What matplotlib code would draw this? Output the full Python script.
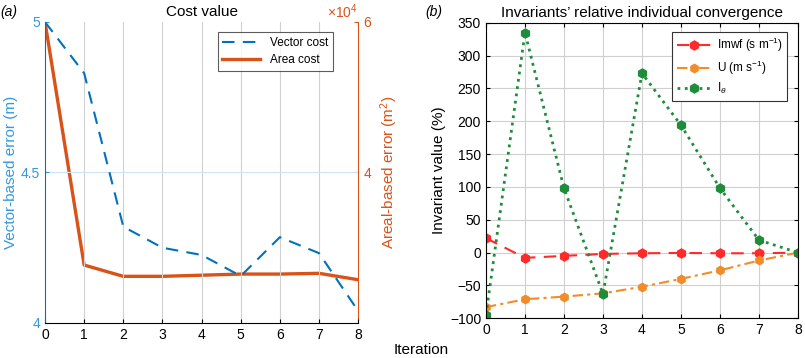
import matplotlib.pyplot as plt
from matplotlib.ticker import ScalarFormatter

plt.rcParams['font.family'] = ['Liberation Sans', 'DejaVu Sans']
plt.rcParams['mathtext.fontset'] = 'custom'
plt.rcParams['mathtext.rm'] = 'Liberation Sans'
plt.rcParams['mathtext.it'] = 'Liberation Sans:italic'

iterations = [0, 1, 2, 3, 4, 5, 6, 7, 8]

# panel (a)
vector_cost = [5.0, 4.83, 4.32, 4.25, 4.226, 4.156, 4.285, 4.232, 4.04]
area_cost = [60000, 27700, 26200, 26200, 26350, 26500, 26500, 26600, 25750]

# panel (b)
imwf = [22, -8, -5, -2, -1, -0.5, -1, -1, 0]
u_inv = [-83, -71, -67, -62, -52, -40, -27, -12, 0]
i_theta = [-95, 335, 98, -63, 273, 194, 98, 19, 0]

BLUE = '#0072BD'
ORANGE = '#D95319'

fig = plt.figure(figsize=(8.05, 3.58), dpi=100)

# ---- (a) cost value ----
ax1 = fig.add_axes([0.0559, 0.0978, 0.389, 0.8408])
ax2 = ax1.twinx()

l1, = ax1.plot(iterations, vector_cost, '--', color=BLUE, lw=1.5, dashes=(6, 4))
l2, = ax2.plot(iterations, area_cost, '-', color=ORANGE, lw=2.4)

ax1.set_xlim(0, 8)
ax1.set_ylim(4, 5)
ax1.set_yticks([4, 4.5, 5])
ax1.set_yticklabels(['4', '4.5', '5'])
ax1.set_xticks(iterations)
ax2.set_ylim(20000, 60000)
ax2.set_yticks([40000, 60000])
fmt = ScalarFormatter(useMathText=True)
fmt.set_powerlimits((0, 0))
ax2.yaxis.set_major_formatter(fmt)
ax2.yaxis.get_offset_text().set_color(ORANGE)
ax2.yaxis.get_offset_text().set_fontsize(10)

for x in iterations[1:-1]:
    ax1.axvline(x, color='#d0d0d0', lw=0.8, zorder=0)
ax1.axhline(4.5, color='#cfe3f2', lw=0.8, zorder=0)

ax1.spines['top'].set_visible(False)
ax2.spines['top'].set_visible(False)
ax1.spines['left'].set_color(BLUE)
ax2.spines['left'].set_visible(False)
ax1.spines['right'].set_visible(False)
ax2.spines['right'].set_color(ORANGE)
ax2.spines['bottom'].set_visible(False)
ax1.tick_params(axis='y', colors='#3399DD', labelsize=10, direction='in', length=3)
ax1.tick_params(axis='x', labelsize=10, direction='in', length=3)
ax2.tick_params(axis='y', colors=ORANGE, labelsize=10, direction='in', length=3)

ax1.set_ylabel('Vector-based error (m)', color='#3399DD', fontsize=11, labelpad=2)
ax2.set_ylabel('Areal-based error (m$^2$)', color=ORANGE, fontsize=11, labelpad=4)
ax1.set_title('Cost value', fontsize=11, pad=4)

leg = ax1.legend([l1, l2], ['Vector cost', 'Area cost'], loc='upper right',
                 bbox_to_anchor=(0.937, 0.985), fontsize=8.5, frameon=True,
                 fancybox=False, edgecolor='#333333', handlelength=3.2,
                 labelspacing=0.45)
leg.get_frame().set_linewidth(0.8)
ax1.set_zorder(ax2.get_zorder() + 1)
ax1.patch.set_visible(False)

fig.text(0.0, 0.955, '(a)', fontsize=10, style='italic')

# ---- (b) invariants ----
ax3 = fig.add_axes([0.6037, 0.1109, 0.3876, 0.8257])
ax3.plot(iterations, imwf, color='#FF2A2A', ls=(0, (6, 4)), lw=1.5,
         marker='h', ms=6.5, label='Imwf (s m$^{-1}$)')
ax3.plot(iterations, u_inv, color='#F28C28', ls=(0, (5, 2, 1.5, 2)), lw=1.5,
         marker='h', ms=6, label='U (m s$^{-1}$)')
ax3.plot(iterations, i_theta, color='#1E8C3A', ls=':', lw=2,
         marker='h', ms=6.5, label='I$_\\theta$')
ax3.set_xlim(0, 8)
ax3.set_ylim(-100, 350)
ax3.set_xticks(iterations)
ax3.set_yticks(range(-100, 351, 50))
ax3.grid(True, color='#d0d0d0', lw=0.8)
ax3.set_axisbelow(True)
ax3.tick_params(labelsize=10, direction='in', length=3, top=True, right=True)
ax3.set_ylabel('Invariant value (%)', fontsize=11, labelpad=3)
ax3.set_title('Invariants\u2019 relative individual convergence', fontsize=11, pad=4)
leg3 = ax3.legend(loc='upper right', bbox_to_anchor=(0.985, 0.99), fontsize=8.5,
                  fancybox=False, edgecolor='#333333', handlelength=3.0,
                  handletextpad=0.4, labelspacing=0.35, framealpha=1)
leg3.get_frame().set_linewidth(0.8)

fig.text(0.528, 0.955, '(b)', fontsize=10, style='italic')
fig.text(0.523, 0.01, 'Iteration', fontsize=11, ha='center')

fig.savefig('out.png', dpi=100)
